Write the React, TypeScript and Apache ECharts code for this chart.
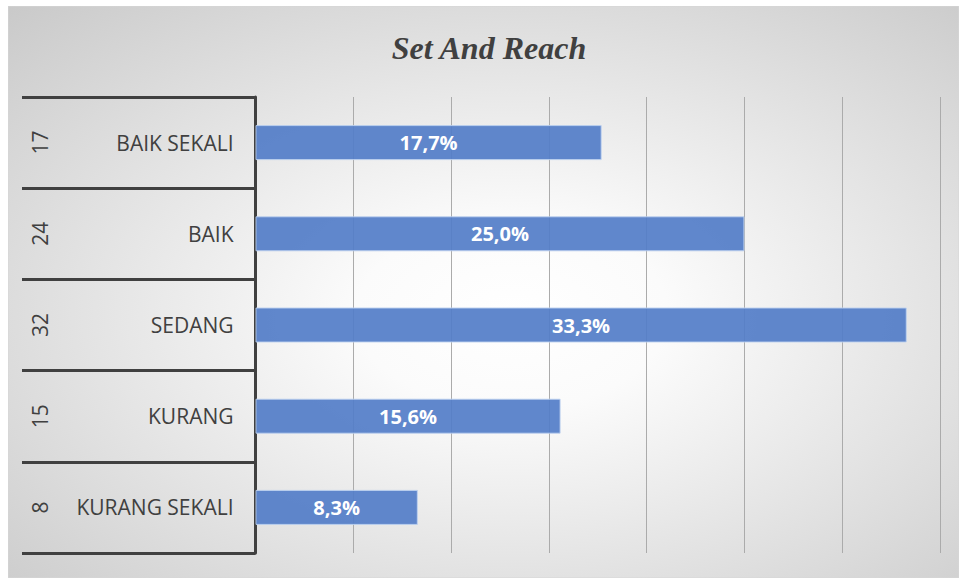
import React, { useEffect, useRef } from "react";
import * as echarts from "echarts";

const categories = ["BAIK SEKALI", "BAIK", "SEDANG", "KURANG", "KURANG SEKALI"];
const counts = ["17", "24", "32", "15", "8"];
const percentValues = [17.7, 25.0, 33.3, 15.6, 8.3];
const titleText = "Set And Reach";

const W = 951;
const H = 572;

export default function App() {
  const ref = useRef<HTMLDivElement>(null);

  useEffect(() => {
    if (!ref.current) return;
    const chart = echarts.init(ref.current, null, { renderer: "svg" });
    const textColor = "#404040";
    chart.setOption({
      animation: false,
      title: {
        text: titleText,
        left: 476,
        top: 21,
        textAlign: "center",
        textStyle: {
          fontFamily: "Liberation Serif",
          fontStyle: "italic",
          fontWeight: "bold",
          fontSize: 32,
          color: textColor,
        },
      },
      graphic: [
        {
          type: "rect",
          z: -100,
          silent: true,
          shape: { x: 0, y: 0, width: W, height: H },
          style: {
            fill: new echarts.graphic.RadialGradient(0.53, 0.54, 0.82, [
              { offset: 0, color: "#ffffff" },
              { offset: 0.2, color: "#fbfbfb" },
              { offset: 1, color: "#c4c4c4" },
            ]),
            stroke: "#d6d6d6",
            lineWidth: 1,
          },
        },
      ],
      grid: { left: 247.5, right: 19, top: 91, bottom: 25, containLabel: false },
      xAxis: {
        type: "value",
        min: 0,
        max: 35,
        interval: 5,
        axisLabel: { show: false },
        axisLine: { show: false },
        axisTick: { show: false },
        splitLine: { show: true, lineStyle: { color: "#ababab", width: 1 } },
      },
      yAxis: [
        {
          type: "category",
          data: categories,
          inverse: true,
          position: "left",
          axisLine: { show: true, lineStyle: { color: textColor, width: 3 } },
          axisTick: {
            show: true,
            length: 233.5,
            lineStyle: { color: textColor, width: 3 },
          },
          axisLabel: {
            margin: 22,
            color: textColor,
            fontFamily: "Open Sans",
            fontSize: 21,
          },
          splitLine: { show: false },
        },
        {
          type: "category",
          data: counts,
          inverse: true,
          position: "left",
          offset: 215.5,
          axisLine: { show: false },
          axisTick: { show: false },
          axisLabel: {
            margin: 0,
            rotate: 90,
            align: "center",
            verticalAlign: "middle",
            color: textColor,
            fontFamily: "Open Sans",
            fontSize: 21,
          },
          splitLine: { show: false },
        },
      ],
      series: [
        {
          type: "bar",
          yAxisIndex: 0,
          data: percentValues,
          barWidth: 35,
          itemStyle: {
            color: "rgba(83,125,200,0.92)",
            borderColor: "rgba(190,210,240,0.9)",
            borderWidth: 1,
          },
          label: {
            show: true,
            position: "inside",
            formatter: (p: any) => p.value.toFixed(1).replace(".", ",") + "%",
            color: "#ffffff",
            fontFamily: "Open Sans",
            fontWeight: "bold",
            fontSize: 20,
          },
        },
      ],
    });
    return () => chart.dispose();
  }, []);

  return (
    <div
      ref={ref}
      style={{ position: "absolute", left: 8, top: 6, width: W, height: H }}
    />
  );
}
